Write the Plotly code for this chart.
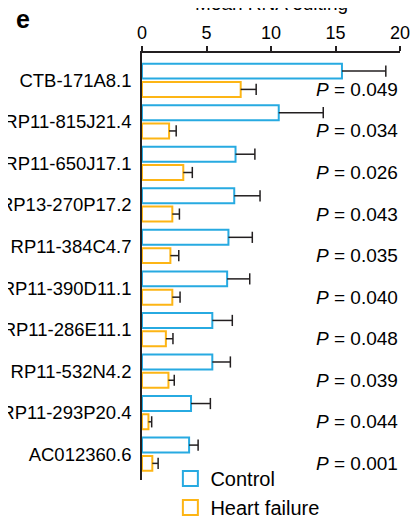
import plotly.graph_objects as go

genes = ["CTB-171A8.1", "RP11-815J21.4", "RP11-650J17.1", "RP13-270P17.2",
         "RP11-384C4.7", "RP11-390D11.1", "RP11-286E11.1", "RP11-532N4.2",
         "RP11-293P20.4", "AC012360.6"]
control_mean = [15.5, 10.6, 7.25, 7.15, 6.7, 6.6, 5.45, 5.45, 3.8, 3.65]
control_err = [3.4, 3.45, 1.5, 2.0, 1.85, 1.75, 1.55, 1.4, 1.5, 0.7]
hf_mean = [7.65, 2.1, 3.2, 2.35, 2.2, 2.35, 1.85, 2.05, 0.5, 0.8]
hf_err = [1.2, 0.55, 0.7, 0.55, 0.65, 0.6, 0.55, 0.45, 0.25, 0.45]
p_values = ["0.049", "0.034", "0.026", "0.043", "0.035", "0.040", "0.048",
            "0.039", "0.044", "0.001"]
x_ticks = [0, 5, 10, 15, 20]

BLUE = "#27AAE1"
ORANGE = "#FDB515"
INK = "#231F20"
FONT = "Liberation Sans, Arial, sans-serif"

idx = list(range(len(genes)))
BAR_W = 0.36
OFF_C = -0.40
OFF_H = 0.04

fig = go.Figure()

def add_series(means, errs, color, off, name):
    fig.add_trace(go.Bar(
        x=means, y=idx, orientation="h", offset=off, width=BAR_W,
        marker=dict(color="white", line=dict(color=color, width=2)),
        showlegend=False, hoverinfo="x",
    ))
    yc = [i + off + BAR_W / 2 for i in idx]
    lx, ly = [], []
    for m, e, y in zip(means, errs, yc):
        lx += [m, m + e, None]
        ly += [y, y, None]
    fig.add_trace(go.Scatter(x=lx, y=ly, mode="lines",
                             line=dict(color=INK, width=1.5),
                             showlegend=False, hoverinfo="skip"))
    fig.add_trace(go.Scatter(x=[m + e for m, e in zip(means, errs)], y=yc,
                             mode="markers",
                             marker=dict(symbol="line-ns", size=8,
                                         line=dict(color=INK, width=1.5)),
                             showlegend=False, hoverinfo="skip"))
    fig.add_trace(go.Scatter(x=[None], y=[None], mode="markers", name=name,
                             marker=dict(symbol="square-open", size=15,
                                         color=color, line=dict(width=2))))

add_series(control_mean, control_err, BLUE, OFF_C, "Control")
add_series(hf_mean, hf_err, ORANGE, OFF_H, "Heart failure")

for i, p in zip(idx, p_values):
    fig.add_annotation(x=20, y=i + OFF_H + BAR_W / 2, xref="x", yref="y",
                       text=f"<i>P</i> = {p}", showarrow=False,
                       xanchor="right", yanchor="middle", xshift=0,
                       font=dict(size=19, color="black", family=FONT))

fig.add_annotation(x=0.5, y=1.0877, xref="paper", yref="paper",
                   text="Mean RNA editing", showarrow=False,
                   xanchor="center", yanchor="bottom",
                   font=dict(size=19, color="black", family=FONT))
fig.add_annotation(x=-0.496, y=1.0795, xref="paper", yref="paper",
                   text="<b>e</b>", showarrow=False,
                   xanchor="left", yanchor="middle",
                   font=dict(size=25, color="black", family=FONT))

fig.update_layout(
    width=420, height=522,
    margin=dict(l=134, r=28, t=44.5, b=50, autoexpand=False),
    paper_bgcolor="white", plot_bgcolor="white",
    font=dict(family=FONT, color="black"),
    barmode="overlay",
    xaxis=dict(side="top", range=[0, 20], tickvals=x_ticks, automargin=False,
               ticks="outside", ticklen=5, tickwidth=1.5, tickcolor=INK,
               showline=True, linecolor=INK, linewidth=1.5,
               showgrid=False, zeroline=False,
               tickfont=dict(size=18, color="black", family=FONT)),
    yaxis=dict(range=[9.62, -0.656], tickvals=idx, ticktext=genes,
               automargin=False,
               ticks="", showline=True, linecolor=INK, linewidth=1.5,
               showgrid=False, zeroline=False, ticklabelstandoff=5,
               tickfont=dict(size=18.5, color="black", family=FONT)),
    legend=dict(x=0.11, y=0.049, xanchor="left", yanchor="top",
                bgcolor="rgba(0,0,0,0)",
                font=dict(size=20, color="black", family=FONT)),
    showlegend=True,
)

fig.write_html("out.html")
